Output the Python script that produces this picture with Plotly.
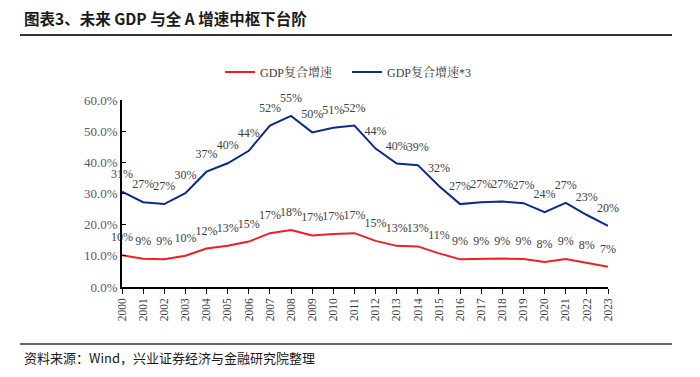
import plotly.graph_objects as go

years = [str(y) for y in range(2000, 2024)]
gdp_rate = [10.2, 9.07, 8.87, 10.03, 12.33, 13.23, 14.57, 17.27, 18.3, 16.53, 17.03, 17.27,
            14.8, 13.2, 13.03, 10.8, 8.87, 9.07, 9.13, 8.97, 8.0, 9.0, 7.7, 6.53]
gdp_rate_x3 = [30.6, 27.2, 26.6, 30.1, 37.0, 39.7, 43.7, 51.8, 54.9, 49.6, 51.1, 51.8,
               44.4, 39.6, 39.1, 32.4, 26.6, 27.2, 27.4, 26.9, 24.0, 27.0, 23.1, 19.6]
y_ticks = [0, 10, 20, 30, 40, 50, 60]
y_tick_labels = ["0.0%", "10.0%", "20.0%", "30.0%", "40.0%", "50.0%", "60.0%"]

title = "图表3、未来 GDP 与全 A 增速中枢下台阶"
source = "资料来源：Wind，兴业证券经济与金融研究院整理"

serif = "Liberation Serif, Times New Roman, Noto Serif CJK SC, Noto Sans CJK SC, serif"
xs = list(range(len(years)))

# figure is drawn inside the page's default 8px body margin
W, H = 684, 361
L, T, PW, PH = 114, 92, 486, 187
BOTTOM = T + PH


def px(X):
    return (X - L) / PW


def py(Y):
    return (BOTTOM - Y) / PH


series = [("GDP复合增速", gdp_rate, "#F01E23"),
          ("GDP复合增速*3", gdp_rate_x3, "#0D2C87")]

fig = go.Figure()
for name, vals, color in series:
    fig.add_trace(go.Scatter(
        x=xs, y=vals, name=name, mode="lines+markers+text", showlegend=False,
        line=dict(color=color, width=2),
        marker=dict(size=16, color="rgba(0,0,0,0)", line=dict(width=0)),
        text=[f"{round(v):d}%" for v in vals], textposition="top center",
        textfont=dict(family=serif, size=12, color="#404040"),
        cliponaxis=False, hoverinfo="x+y",
    ))
for name, vals, color in series:
    fig.add_trace(go.Scatter(
        x=[None], y=[None], name=name, mode="lines",
        line=dict(color=color, width=2), showlegend=True,
    ))

fig.update_layout(
    width=W, height=H,
    margin=dict(l=L, r=W - L - PW, t=T, b=H - T - PH, autoexpand=False),
    paper_bgcolor="white", plot_bgcolor="white",
    font=dict(family=serif, color="#404040"),
    showlegend=True,
    legend=dict(orientation="h", xref="container", yref="container",
                x=212 / W, y=1 - 64 / H, xanchor="left", yanchor="middle",
                font=dict(family=serif, size=12, color="#404040"),
                entrywidth=82, entrywidthmode="pixels",
                bgcolor="rgba(0,0,0,0)"),
    xaxis=dict(range=[0, 23], tickmode="array", tickvals=xs, ticktext=years,
               tickangle=-90, ticks="outside", ticklen=5, tickcolor="black",
               showline=True, linecolor="black", linewidth=1.5,
               showgrid=False, zeroline=False, automargin=False,
               tickfont=dict(family=serif, size=11.5, color="#404040")),
    yaxis=dict(range=[0, 60], tickmode="array", tickvals=y_ticks, ticktext=y_tick_labels,
               ticks="inside", ticklen=4, tickcolor="black",
               showline=True, linecolor="black", linewidth=1.5,
               showgrid=False, zeroline=False, automargin=False,
               tickfont=dict(family=serif, size=13, color="#595959")),
    annotations=[
        dict(text="<b>" + title + "</b>", xref="paper", yref="paper",
             x=px(14), y=py(10), xanchor="left", yanchor="middle",
             showarrow=False, font=dict(family="Noto Sans CJK SC, sans-serif", size=15.5, color="#1a1a1a")),
        dict(text=source, xref="paper", yref="paper",
             x=px(14), y=py(349), xanchor="left", yanchor="middle",
             showarrow=False, font=dict(family="Noto Sans CJK SC, serif", size=13, color="#1a1a1a")),
    ],
    shapes=[
        dict(type="line", xref="paper", yref="paper",
             x0=px(12), x1=px(664), y0=py(27), y1=py(27),
             line=dict(color="#333333", width=2)),
        dict(type="line", xref="paper", yref="paper",
             x0=px(12), x1=px(664), y0=py(336), y1=py(336),
             line=dict(color="#333333", width=1.5)),
    ],
)

fig.write_html("out.html")
